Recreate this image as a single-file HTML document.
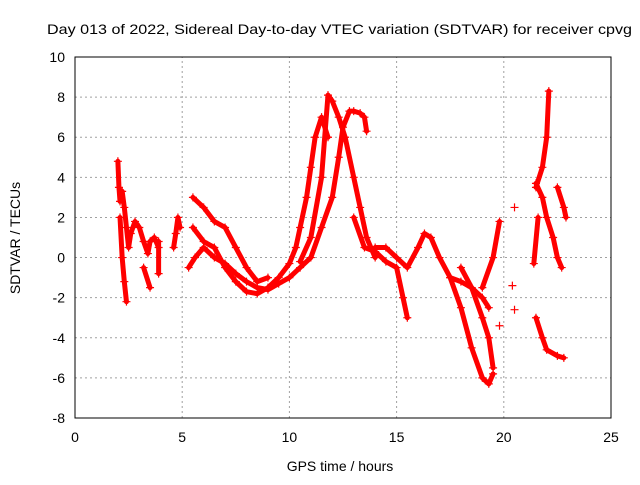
<!DOCTYPE html>
<html><head><meta charset="utf-8"><style>
body{margin:0;background:#fff;font-family:"Liberation Sans",sans-serif}
svg text{font-family:"Liberation Sans",sans-serif;font-size:14px;fill:#000}
</style></head><body>
<svg width="640" height="480" id="c"></svg>
<script>
const xTicks=[0,5,10,15,20,25];
const yTicks=[-8,-6,-4,-2,0,2,4,6,8,10];
const tracks=[
[[2.0,4.8],[2.05,3.5],[2.1,2.8],[2.2,3.3],[2.3,2.5],[2.4,1.5],[2.5,0.5],[2.6,1.2],[2.8,1.8],[3.0,1.5],[3.2,0.8],[3.4,0.2],[3.5,0.8],[3.7,1.0],[3.9,0.5]],
[[2.1,2.0],[2.2,0],[2.3,-1.2],[2.4,-2.2]],
[[3.2,-0.5],[3.5,-1.5]],[[3.9,-0.8],[3.9,0.8]],
[[4.6,0.5],[4.7,1.2],[4.8,2.0],[4.9,1.5]],
[[5.5,3.0],[6.0,2.5],[6.5,1.8],[7.0,1.5],[7.5,0.5],[8.0,-0.5],[8.5,-1.2],[9.0,-1.0]],
[[5.5,1.5],[6.0,0.8],[6.5,0.5],[7.0,-0.5],[7.5,-1.2],[8.0,-1.7],[8.5,-1.8],[9.0,-1.5],[9.5,-1.0],[10.0,-0.3],[10.3,0.5],[10.5,1.5],[10.8,3.0],[11.0,4.5],[11.2,6.0],[11.5,7.0],[11.8,6.0]],
[[5.3,-0.5],[5.6,0],[6.0,0.5],[6.5,0],[7.0,-0.3],[7.5,-0.8],[8,-1.2],[8.5,-1.5],[9,-1.6],[9.5,-1.3],[10,-1],[10.5,-0.5],[11,0],[11.5,1.5],[12,3],[12.3,5],[12.5,6.5],[12.8,7.3],[13,7.3],[13.3,7.2],[13.5,7],[13.6,6.3]],
[[10.5,-0.2],[11,1],[11.5,4],[11.8,8.1],[12,7.8],[12.3,7],[12.6,6],[13,4],[13.3,2.5],[13.6,1],[14,0]],
[[13,2],[13.5,0.5],[14,0.3],[14.5,-0.2],[15,-0.5],[15.3,-2],[15.5,-3]],
[[14,0.5],[14.5,0.5],[15,0],[15.5,-0.5],[16,0.5],[16.3,1.2],[16.6,1],[17,0],[17.5,-1],[18,-1.2],[18.5,-1.5],[19,-2],[19.3,-2.5]],
[[17.5,-1],[18,-2.5],[18.5,-4.5],[19,-6],[19.3,-6.3],[19.5,-5.8]],
[[18,-0.5],[18.5,-1.5],[19,-3],[19.3,-4],[19.5,-5.5]],
[[19,-1.5],[19.5,0],[19.8,1.8]],[[19.8,-3.4]],[[20.5,2.5]],[[20.5,-2.6]],[[20.4,-1.4]],
[[21.5,3.5],[21.8,4.5],[22,6],[22.1,8.3]],
[[21.5,-3],[21.8,-4],[22,-4.6],[22.5,-4.9],[22.8,-5]],
[[21.5,3.7],[21.8,3],[22,2],[22.3,1],[22.5,0],[22.7,-0.5]],
[[22.5,3.5],[22.8,2.5],[22.9,2]],
[[21.4,-0.3],[21.6,2]]
];
const X0=75,X1=611,Y0=418,Y1=57;
const sx=v=>X0+(v-0)/25*(X1-X0);
const sy=v=>Y0-(v+8)/18*(Y0-Y1);
const svg=document.getElementById('c');const NS='http://www.w3.org/2000/svg';
function mk(t,a,p){const e=document.createElementNS(NS,t);for(const k in a)e.setAttribute(k,a[k]);(p||svg).appendChild(e);return e;}
xTicks.forEach(v=>{const x=sx(v);
 if(v>0&&v<25){const l=mk('line',{x1:x,y1:Y0,x2:x,y2:Y1,stroke:'#a0a0a0','stroke-dasharray':'2,3'});}
 const t=mk('text',{x:x,y:Y0+24,'text-anchor':'middle'});t.textContent=v;
 });
yTicks.forEach(v=>{const y=sy(v);
 if(v>-8&&v<10){const l=mk('line',{x1:X0,y1:y,x2:X1,y2:y,stroke:'#a0a0a0','stroke-dasharray':'2,3'});}
 const t=mk('text',{x:X0-10,y:y+5,'text-anchor':'end'});t.textContent=v;
 });
tracks.forEach(tr=>{
 if(tr.length>1){const p=mk('polyline',{points:tr.map(d=>sx(d[0])+','+sy(d[1])).join(' '),fill:'none',stroke:'#f00','stroke-width':5,'stroke-linejoin':'round','stroke-linecap':'round'});
 }
 tr.forEach(d=>{const x=sx(d[0]),y=sy(d[1]);
  const m=mk('path',{d:`M${x-4},${y}h8M${x},${y-4}v8`,stroke:'#f00','stroke-width':1.2});
  });
});
const f=mk('rect',{x:X0,y:Y1,width:X1-X0,height:Y0-Y1,fill:'none',stroke:'#000'});

const ti=mk('text',{x:47,y:34,textLength:585,lengthAdjust:'spacingAndGlyphs'});ti.textContent='Day 013 of 2022, Sidereal Day-to-day VTEC variation (SDTVAR) for receiver cpvg';

const xt=mk('text',{x:340,y:471,'text-anchor':'middle'});xt.textContent='GPS time / hours';

const yt=mk('text',{x:20,y:238,'text-anchor':'middle',transform:'rotate(-90 20 238)'});yt.textContent='SDTVAR / TECUs';

</script>
</body></html>
